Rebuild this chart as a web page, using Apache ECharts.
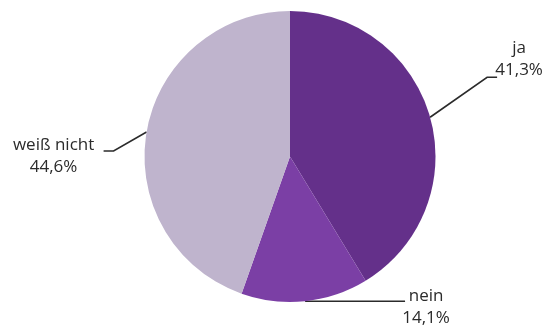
<!DOCTYPE html>
<html>
<head>
<meta charset="utf-8">
<script src="https://cdn.jsdelivr.net/npm/echarts@6/dist/echarts.min.js"></script>
<style>
  html, body { margin: 0; padding: 0; background: #fff; }
  #chart { width: 551px; height: 325px; }
</style>
</head>
<body>
<div id="chart"></div>
<script>
var kategorien = ['ja', 'nein', 'weiß nicht'];
var werte = [41.3, 14.1, 44.6];
var farben = ['#64308a', '#7b3fa5', '#bfb4cd'];

// where each label sits relative to the slice edge point: [bend dx, bend dy, end dx, end dy, text dx, text dy]
var labelOffsets = [
  [57, -40, 67, -40, 89, -58],
  [50, 0, 100, 0, 121, 6],
  [-33, 19, -43, 19, -93, 24]
];

var chartDom = document.getElementById('chart');
var myChart = echarts.init(chartDom);

var daten = kategorien.map(function (k, i) {
  return { name: k, value: werte[i], itemStyle: { color: farben[i] } };
});

var option = {
  animation: false,
  series: [
    {
      type: 'pie',
      center: [290, 156.5],
      radius: 145.5,
      startAngle: 90,
      clockwise: true,
      data: daten,
      label: {
        show: true,
        position: 'outside',
        fontFamily: 'Open Sans',
        fontSize: 17,
        color: '#2b2b2b',
        lineHeight: 22,
        formatter: function (p) {
          return p.name + '\n' + p.value.toFixed(1).replace('.', ',') + '%';
        }
      },
      labelLine: {
        show: true,
        length: 20,
        length2: 10,
        lineStyle: { color: '#2b2b2b', width: 1.6 }
      },
      labelLayout: function (params) {
        var o = labelOffsets[params.dataIndex];
        var p0 = params.labelLinePoints[0];
        return {
          x: p0[0] + o[4],
          y: p0[1] + o[5],
          align: 'center',
          verticalAlign: 'middle',
          labelLinePoints: [
            [p0[0], p0[1]],
            [p0[0] + o[0], p0[1] + o[1]],
            [p0[0] + o[2], p0[1] + o[3]]
          ]
        };
      }
    }
  ]
};

option && myChart.setOption(option);
</script>
</body>
</html>
